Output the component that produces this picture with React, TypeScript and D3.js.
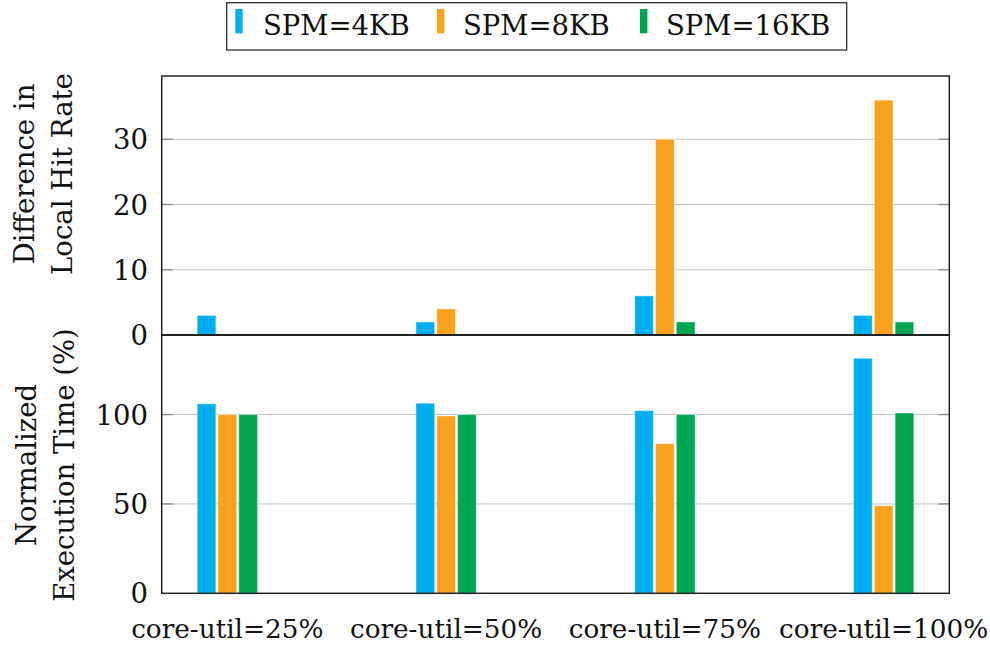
import React from "react";
import * as d3 from "d3";

const categories = ["core-util=25%", "core-util=50%", "core-util=75%", "core-util=100%"];
const seriesNames = ["SPM=4KB", "SPM=8KB", "SPM=16KB"];
const seriesColors = ["#00aeef", "#f8a21f", "#00a551"];
const hitRate4KB = [3, 2, 6, 3];
const hitRate8KB = [0, 4, 30, 36];
const hitRate16KB = [0, 0, 2, 2];
const execTime4KB = [106, 106.3, 102.2, 131.5];
const execTime8KB = [100, 99.2, 83.7, 49];
const execTime16KB = [100, 100, 100, 100.9];
const topTicks = [0, 10, 20, 30];
const bottomTicks = [0, 50, 100];
const topLabel = ["Difference in", "Local Hit Rate"];
const bottomLabel = ["Normalized", "Execution Time (%)"];

const FONT = "DejaVu Serif, Liberation Serif, serif";
const FS = 27.5;
const FSX = 26.3;

export default function App() {
  const W = 990, H = 646;
  const left = 161.7, right = 949.3;
  const topY0 = 76, topY1 = 335, botY0 = 335, botY1 = 593.3;

  const x = d3.scalePoint<string>().domain(categories).range([left, right]).padding(0.3);
  const inner = d3.scaleBand<string>().domain(seriesNames).range([-30.16, 30.16]).paddingInner(0.1).paddingOuter(0);
  const yTop = d3.scaleLinear().domain([0, 39.7]).range([topY1, topY0]);
  const yBot = d3.scaleLinear().domain([0, 144.5]).range([botY1, botY0]);

  const topData = [hitRate4KB, hitRate8KB, hitRate16KB];
  const botData = [execTime4KB, execTime8KB, execTime16KB];

  const panel = (
    y: d3.ScaleLinear<number, number>,
    ticks: number[],
    data: number[][],
    key: string
  ) => (
    <g key={key}>
      {ticks.filter((t) => t !== 0).map((t) => (
        <line key={"g" + t} x1={left} x2={right} y1={y(t)} y2={y(t)} stroke="#c4c4c4" strokeWidth={1} />
      ))}
      {ticks.filter((t) => t !== 0).map((t) => (
        <g key={"t" + t}>
          <line x1={left} x2={left + 11} y1={y(t)} y2={y(t)} stroke="#8a8a8a" strokeWidth={1.3} />
          <line x1={right - 11} x2={right} y1={y(t)} y2={y(t)} stroke="#8a8a8a" strokeWidth={1.3} />
        </g>
      ))}
      {data.map((vals, si) =>
        vals.map((v, ci) => {
          const bx = (x(categories[ci]) as number) + (inner(seriesNames[si]) as number);
          const h = y(0) - y(v);
          if (h <= 0.01) return null;
          return (
            <rect
              key={si + "-" + ci}
              x={bx}
              y={y(v)}
              width={inner.bandwidth()}
              height={h}
              fill={seriesColors[si]}
              stroke="#ffffff"
              strokeOpacity={0.45}
              strokeWidth={1}
            />
          );
        })
      )}
      {ticks.map((t) => (
        <text
          key={"l" + t}
          x={148}
          y={y(t)}
          textAnchor="end"
          dominantBaseline="central"
          fontFamily={FONT}
          fontSize={FS}
          fill="#111"
        >
          {t}
        </text>
      ))}
    </g>
  );

  const legendItems = [
    { sx: 235.3, tx: 263 },
    { sx: 437, tx: 463 },
    { sx: 640, tx: 666 },
  ];

  return (
    <svg width={W} height={H} style={{ position: "absolute", left: 0, top: 0, background: "#fff" }}>
      <rect x={0} y={0} width={W} height={H} fill="#fff" />
      {panel(yTop, topTicks, topData, "top")}
      {panel(yBot, bottomTicks, botData, "bot")}
      <rect x={left} y={topY0} width={right - left} height={botY1 - topY0} fill="none" stroke="#222" strokeWidth={1.5} />
      <line x1={left} x2={right} y1={topY1} y2={topY1} stroke="#222" strokeWidth={2.2} />
      {categories.map((c) => (
        <text key={c} x={x(c) as number} y={638} textAnchor="middle" fontFamily={FONT} fontSize={FSX} fill="#111">
          {c}
        </text>
      ))}
      <g transform={`translate(34, 174) rotate(-90)`}>
        <text x={0} y={0} textAnchor="middle" fontFamily={FONT} fontSize={FS} fill="#111">{topLabel[0]}</text>
        <text x={0} y={38} textAnchor="middle" fontFamily={FONT} fontSize={FS} fill="#111">{topLabel[1]}</text>
      </g>
      <g transform={`translate(36, 465) rotate(-90)`}>
        <text x={0} y={0} textAnchor="middle" fontFamily={FONT} fontSize={FS} fill="#111">{bottomLabel[0]}</text>
        <text x={0} y={38} textAnchor="middle" fontFamily={FONT} fontSize={FS} fill="#111">{bottomLabel[1]}</text>
      </g>
      <rect x={226.7} y={2.7} width={620} height={47.3} fill="#fff" stroke="#333" strokeWidth={1.3} />
      {seriesNames.map((s, i) => (
        <g key={s}>
          <rect x={legendItems[i].sx} y={9} width={7.4} height={24.3} fill={seriesColors[i]} />
          <text x={legendItems[i].tx} y={35} fontFamily={FONT} fontSize={FS} fill="#111">
            {s}
          </text>
        </g>
      ))}
    </svg>
  );
}
